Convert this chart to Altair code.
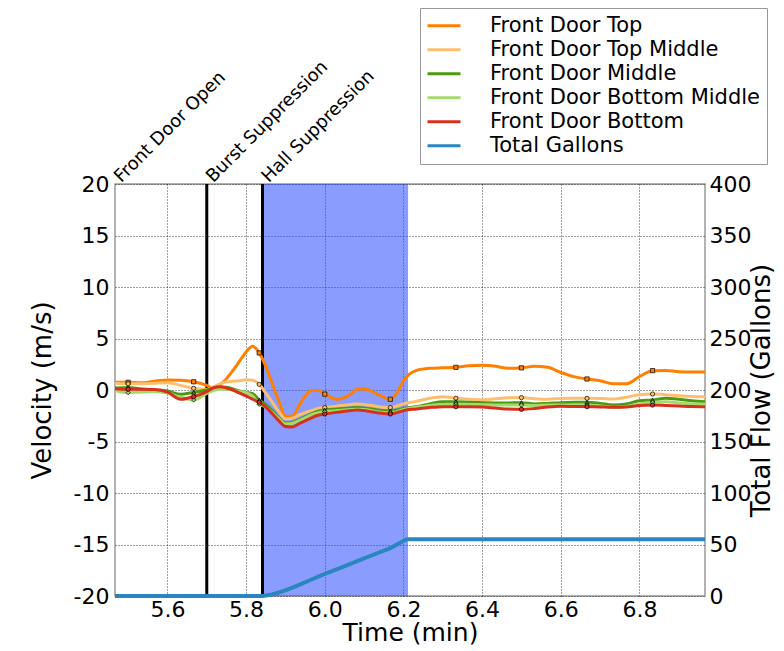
import altair as alt
import pandas as pd

# ---------------- data ----------------
time_s = [328, 330, 332, 334, 336, 338, 340, 342,
          343, 344, 345, 346, 347, 348, 349, 350, 351, 352, 353, 354, 355, 356, 357, 358, 359, 360,
          362, 364, 365, 366, 368, 370, 371, 372,
          374, 376, 378, 380, 382, 384, 386, 388, 390, 392, 394, 396, 398, 400, 402, 404, 406, 408,
          410, 412, 414, 416, 418]

front_door_top = [0.75, 0.75, 0.7, 0.85, 0.97, 0.95, 0.8, 0.45,
                  0.2, 0.5, 1.1, 1.9, 2.8, 3.7, 4.25, 3.6, 2.3, 0.6, -1.1, -2.55, -2.55, -1.6, -0.6, -0.05, -0.05, -0.4,
                  -0.9, -0.4, 0.1, 0.1, -0.4, -0.9, -0.3, 0.9,
                  1.9, 2.1, 2.15, 2.2, 2.35, 2.4, 2.3, 2.1, 2.15, 2.3, 2.2, 1.7, 1.3, 1.07, 0.9, 0.6, 0.6, 1.3,
                  1.88, 1.9, 1.78, 1.75, 1.75]

front_door_top_middle = [0.65, 0.6, 0.6, 0.65, 0.7, 0.45, 0.16, 0.05,
                         0.3, 0.6, 0.8, 0.85, 0.9, 1.0, 0.95, 0.55, -0.3, -1.2, -2.1, -2.8, -2.75, -2.45, -2.2, -2.0, -1.8, -1.71,
                         -1.55, -1.4, -1.36, -1.4, -1.6, -1.71, -1.55, -1.35,
                         -1.1, -0.8, -0.65, -0.8, -0.9, -0.97, -0.85, -0.75, -0.74, -0.85, -0.9, -0.82, -0.8, -0.81, -0.83, -0.88, -0.7, -0.45,
                         -0.39, -0.45, -0.55, -0.62, -0.65]

front_door_middle = [0.2, 0.25, 0.1, 0.0, -0.1, -0.42, -0.23, 0.0,
                     0.2, 0.26, 0.26, 0.1, -0.1, -0.23, -0.35, -0.97, -1.4, -2.0, -2.7, -3.2, -3.15, -2.9, -2.6, -2.3, -2.05, -1.94,
                     -1.85, -1.75, -1.71, -1.75, -1.95, -2.04, -1.95, -1.8,
                     -1.62, -1.35, -1.13, -1.13, -1.2, -1.23, -1.25, -1.25, -1.23, -1.35, -1.3, -1.23, -1.2, -1.2, -1.3, -1.45, -1.35, -1.05,
                     -0.97, -0.81, -0.9, -1.05, -1.13]

front_door_bottom_middle = [-0.07, -0.26, -0.2, -0.16, -0.3, -0.7, -0.97, -0.32,
                            -0.05, 0.07, 0.07, 0.0, -0.15, -0.26, -0.6, -1.39, -1.65, -2.2, -2.8, -3.3, -3.25, -3.0, -2.7, -2.4, -2.2, -2.1,
                            -2.0, -1.9, -1.88, -1.9, -2.1, -2.2, -2.1, -1.9,
                            -1.68, -1.5, -1.4, -1.39, -1.4, -1.42, -1.45, -1.46, -1.46, -1.5, -1.45, -1.45, -1.46, -1.46, -1.55, -1.68, -1.6, -1.35,
                            -1.2, -1.15, -1.25, -1.35, -1.36]

front_door_bottom = [0.13, 0.07, 0.07, 0.05, -0.2, -0.9, -0.65, -0.16,
                     0.2, 0.32, 0.2, 0.0, -0.3, -0.58, -0.9, -1.2, -1.65, -2.3, -3.0, -3.55, -3.6, -3.3, -3.0, -2.7, -2.45, -2.33,
                     -2.15, -2.0, -1.94, -2.0, -2.2, -2.33, -2.2, -2.0,
                     -1.84, -1.7, -1.62, -1.62, -1.62, -1.65, -1.75, -1.85, -1.88, -1.8, -1.65, -1.58, -1.6, -1.62, -1.65, -1.68, -1.65, -1.5,
                     -1.46, -1.5, -1.55, -1.6, -1.62]

gallons_time_s = [328, 350.5, 352, 354, 356, 358, 360, 362, 364, 366, 368, 370, 372.5, 418]
total_gallons = [0, 0, 1.5, 5.5, 10.5, 16, 21.4, 26.3, 31.5, 36.5, 41.5, 46.5, 55, 55]

event_names = ["Front Door Open", "Burst Suppression", "Hall Suppression"]
event_time_s = [328, 342, 350.5]

shade_start_s = [350.5]
shade_end_s = [372.7]

series_names = ["Front Door Top", "Front Door Top Middle", "Front Door Middle",
                "Front Door Bottom Middle", "Front Door Bottom", "Total Gallons"]
series_colors = ["#ff7f00", "#fdbf6f", "#4b9a10", "#a6d96a", "#d7301f", "#2b86c0"]
marker_shapes = ["square", "circle", "triangle-up", "diamond", "circle"]

x_ticks = [5.6, 5.8, 6.0, 6.2, 6.4, 6.6, 6.8]
vel_ticks = [-20, -15, -10, -5, 0, 5, 10, 15, 20]
gal_ticks = [0, 50, 100, 150, 200, 250, 300, 350, 400]

# ---------------- tables ----------------
vel_series = [front_door_top, front_door_top_middle, front_door_middle,
              front_door_bottom_middle, front_door_bottom]
rows = []
for name, vals in zip(series_names[:5], vel_series):
    assert len(vals) == len(time_s)
    for s, v in zip(time_s, vals):
        rows.append({"sec": s, "time": s / 60.0, "velocity": v, "series": name})
vel = pd.DataFrame(rows)

gal = pd.DataFrame({"time": [s / 60.0 for s in gallons_time_s],
                    "gallons": total_gallons,
                    "series": "Total Gallons"})

events = pd.DataFrame({"name": event_names, "time": [s / 60.0 for s in event_time_s]})
shade = pd.DataFrame({"start": [s / 60.0 for s in shade_start_s],
                      "end": [s / 60.0 for s in shade_end_s]})

FONT = "DejaVu Sans"
x_dom = [time_s[0] / 60.0, time_s[-1] / 60.0]

xenc = alt.X("time:Q",
             scale=alt.Scale(domain=x_dom, nice=False, zero=False),
             axis=alt.Axis(title="Time (min)", values=x_ticks, format=".1f",
                           labelPadding=3, titlePadding=0, titleFontSize=25))
yscale = alt.Scale(domain=[-20, 20], nice=False)
yaxis = alt.Axis(title="Velocity (m/s)", values=vel_ticks,
                 labelExpr="datum.value < 0 ? '-' + abs(datum.value) : '' + datum.value",
                 labelPadding=6, titlePadding=18)

legend = alt.Legend(orient="none", legendX=305, legendY=-176, title=None,
                    symbolType="stroke", symbolSize=1089, symbolStrokeWidth=3,
                    labelFont=FONT, labelFontSize=21, labelColor="black",
                    labelOffset=28, labelLimit=400, rowPadding=0, clipHeight=23.6,
                    padding=6, strokeColor="#999", fillColor="white", cornerRadius=0)
color = alt.Color("series:N", scale=alt.Scale(domain=series_names, range=series_colors),
                  legend=legend)

shade_layer = alt.Chart(shade).mark_rect(color="#2a4dff", opacity=0.55).encode(
    x=alt.X("start:Q", scale=alt.Scale(domain=x_dom, nice=False, zero=False)),
    x2="end:Q")

rule_layer = alt.Chart(events).transform_filter(
    alt.datum.time > x_dom[0] + 1e-6
).mark_rule(color="black", strokeWidth=3).encode(x="time:Q")

lines = alt.Chart(vel).mark_line(strokeWidth=3, interpolate="monotone").encode(
    x=xenc,
    y=alt.Y("velocity:Q", scale=yscale, axis=yaxis),
    color=color)

points = alt.Chart(vel).transform_filter(
    "datum.sec % 10 == 0"
).mark_point(filled=True, size=18, stroke="black", strokeWidth=0.7, opacity=1).encode(
    x="time:Q",
    y=alt.Y("velocity:Q", scale=yscale),
    fill=alt.Fill("series:N", scale=alt.Scale(domain=series_names, range=series_colors), legend=None),
    shape=alt.Shape("series:N", scale=alt.Scale(domain=series_names[:5], range=marker_shapes), legend=None))

labels = alt.Chart(events).mark_text(
    angle=315, align="left", baseline="alphabetic", dx=5, dy=4,
    font=FONT, fontSize=18, color="black"
).encode(x="time:Q", y=alt.value(0), text="name:N")

vel_chart = alt.layer(shade_layer, rule_layer, lines, points, labels)

gal_chart = alt.Chart(gal).mark_line(strokeWidth=4).encode(
    x="time:Q",
    y=alt.Y("gallons:Q", scale=alt.Scale(domain=[0, 400], nice=False),
            axis=alt.Axis(orient="right", title="Total Flow (Gallons)", values=gal_ticks,
                          format="d", grid=False, labelPadding=4, titlePadding=24,
                          titleAngle=270, titleBaseline="bottom")),
    color=color)

chart = alt.layer(vel_chart, gal_chart).resolve_scale(y="independent").properties(
    width=590, height=412,
    autosize=alt.AutoSizeParams(type="none"),
    padding={"left": 107, "top": 176, "right": 70, "bottom": 50},
).configure_axis(
    labelFont=FONT, titleFont=FONT, labelFontSize=22, titleFontSize=26,
    titleFontWeight="normal", labelColor="black", titleColor="black",
    domain=False, ticks=False, gridColor="black", gridDash=[1, 2],
    gridOpacity=0.75, gridWidth=1
).configure_view(stroke="#999", strokeWidth=1.5)

chart.save("out.html", embed_options={"renderer": "svg", "actions": False})
